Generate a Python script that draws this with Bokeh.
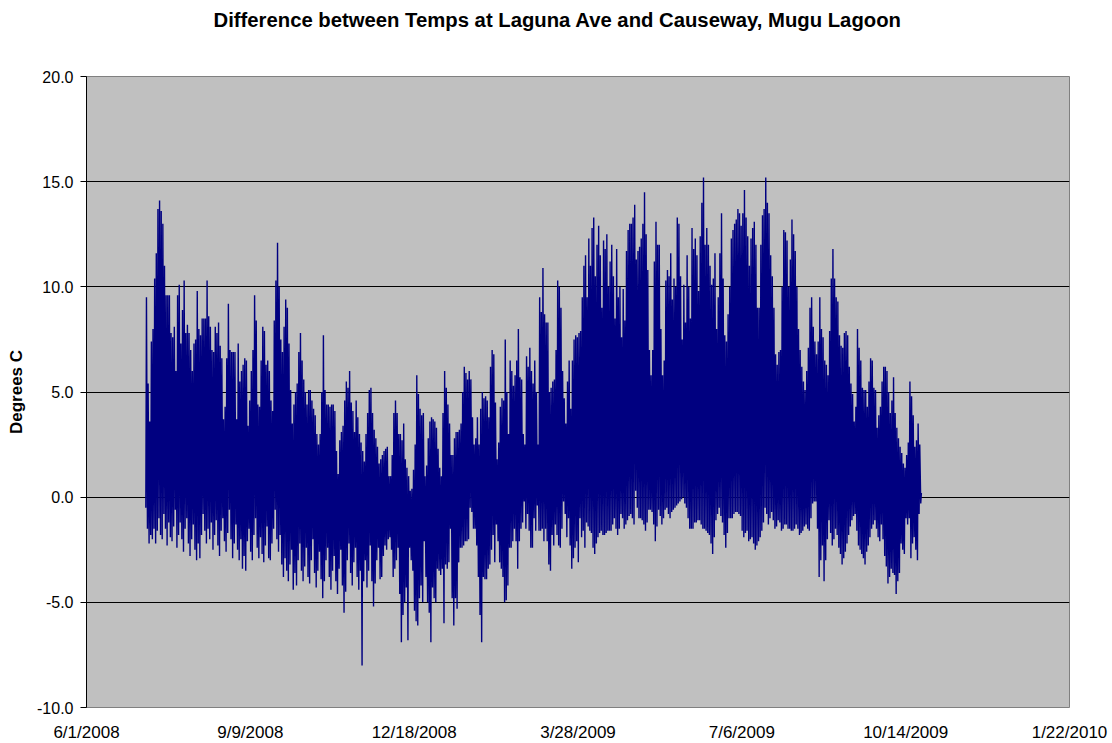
import datetime as dt
from bokeh.plotting import figure
from bokeh.models import FixedTicker, NumeralTickFormatter, Range1d, ColumnDataSource, Title
from bokeh.embed import file_html
from bokeh.resources import INLINE

chart_title = "Difference between Temps at Laguna Ave and Causeway, Mugu Lagoon"
y_title = "Degrees C"
axis_start = "6/1/2008"
series_start = "7/7/2008"
x_tick_labels = ["6/1/2008", "9/9/2008", "12/18/2008", "3/28/2009", "7/6/2009", "10/14/2009", "1/22/2010"]
y_ticks = [-10, -5, 0, 5, 10, 15, 20]
y_grid = [-5, 0, 5, 10, 15]

# daily maximum of the temperature difference (deg C), one value per day from series_start
daily_max = [
    9.5, 5.4, 3.6, 7.4, 8.0, 10.4, 11.6, 13.7, 14.1, 13.6,
    13.0, 11.0, 9.6, 9.6, 9.6, 7.8, 7.6, 8.1, 6.0, 9.6,
    10.1, 7.3, 8.9, 10.3, 7.8, 8.2, 7.8, 7.0, 6.0, 7.3,
    7.5, 9.8, 8.0, 7.7, 8.5, 8.5, 8.5, 10.3, 8.6, 8.1,
    7.0, 6.9, 8.1, 7.8, 8.3, 7.2, 6.6, 3.7, 4.3, 6.6,
    9.2, 7.0, 6.9, 6.9, 6.9, 3.7, 7.3, 5.5, 6.0, 6.3,
    6.6, 6.5, 3.4, 4.6, 6.0, 7.0, 9.6, 8.4, 4.4, 4.3,
    6.5, 8.1, 7.9, 6.3, 6.5, 6.0, 4.6, 4.1, 8.4, 10.3,
    12.1, 10.0, 7.5, 6.9, 8.1, 9.4, 9.0, 7.3, 5.1, 3.5,
    4.4, 5.0, 5.4, 6.9, 7.8, 6.5, 5.6, 5.0, 4.4, 5.1,
    5.1, 4.6, 4.2, 3.9, 3.0, 2.5, 3.0, 5.0, 7.7, 5.1,
    4.4, 4.4, 4.3, 4.4, 4.4, 4.1, 2.2, 1.1, 2.7, 3.1,
    3.4, 4.6, 5.5, 5.2, 6.0, 4.5, 4.1, 3.1, 4.6, 3.8,
    3.0, 2.6, 2.2, 1.7, 3.0, 4.0, 5.1, 5.2, 4.0, 3.2,
    2.8, 2.4, 1.6, 1.8, 2.0, 2.2, 2.3, 2.4, 1.0, 1.0,
    2.0, 4.0, 4.6, 4.0, 3.0, 3.0, 2.7, 3.5, 1.8, 1.4,
    1.0, 0.3, 0.4, 1.3, 2.5, 5.8, 4.9, 4.2, 3.9, 4.0,
    1.0, 1.5, 2.8, 3.6, 3.8, 3.7, 3.6, 3.3, 2.3, 1.4,
    1.0, 4.0, 6.0, 5.2, 4.4, 3.5, 2.0, 2.0, 2.8, 3.1,
    3.1, 3.2, 3.5, 5.0, 6.2, 5.9, 5.6, 6.0, 5.6, 3.8,
    2.5, 2.8, 3.8, 2.5, 4.2, 5.0, 4.7, 4.8, 4.6, 3.8,
    6.2, 7.0, 6.8, 4.5, 1.8, 2.6, 4.3, 4.7, 4.6, 7.5,
    5.0, 3.0, 6.5, 6.0, 5.3, 5.8, 6.5, 8.0, 5.7, 5.6,
    3.0, 2.5, 6.7, 6.2, 7.1, 6.0, 5.4, 6.5, 5.0, 2.5,
    9.5, 8.8, 10.9, 8.7, 8.3, 8.3, 5.0, 5.2, 5.5, 5.6,
    7.0, 10.3, 10.0, 9.0, 6.0, 4.7, 3.5, 5.5, 6.5, 4.2,
    6.5, 7.5, 7.7, 7.6, 7.8, 7.9, 9.5, 11.0, 11.5, 9.5,
    12.3, 11.0, 12.8, 13.3, 10.5, 12.0, 12.9, 11.5, 9.0, 12.2,
    11.8, 12.5, 10.0, 11.2, 12.0, 10.5, 8.5, 11.8, 9.5, 10.0,
    7.6, 9.9, 8.4, 11.7, 12.7, 13.0, 13.0, 13.3, 13.9, 11.3,
    11.7, 11.9, 12.3, 13.0, 14.5, 12.5, 10.8, 7.0, 5.8, 7.0,
    11.2, 13.1, 12.0, 12.0, 8.0, 5.8, 6.5, 10.3, 10.8, 10.5,
    11.6, 9.4, 10.4, 10.0, 13.3, 13.0, 10.5, 7.5, 10.1, 8.3,
    11.5, 10.0, 8.5, 12.8, 11.8, 12.3, 11.5, 9.8, 12.4, 14.0,
    15.2, 12.0, 12.8, 12.0, 11.0, 10.1, 10.4, 11.6, 8.0, 9.5,
    11.6, 13.5, 10.4, 7.7, 7.4, 8.7, 10.0, 12.3, 12.7, 13.0,
    13.2, 13.7, 13.5, 12.9, 13.5, 14.6, 13.3, 12.4, 11.0, 12.3,
    12.8, 13.1, 12.0, 9.0, 9.0, 12.0, 13.4, 13.7, 15.2, 14.0,
    13.5, 11.5, 10.5, 9.0, 6.8, 6.3, 6.9, 7.0, 10.0, 12.7,
    12.6, 12.2, 10.0, 11.3, 13.2, 12.5, 11.7, 10.0, 8.0, 7.0,
    6.2, 5.5, 5.1, 6.0, 7.1, 9.0, 9.5, 8.1, 7.4, 6.8,
    7.4, 9.5, 8.0, 7.6, 6.5, 6.3, 5.8, 7.9, 10.4, 11.8,
    10.4, 9.5, 9.3, 7.7, 7.2, 7.1, 7.8, 7.9, 7.7, 6.2,
    5.4, 4.9, 3.6, 4.3, 8.0, 7.1, 6.5, 5.2, 5.1, 5.1,
    4.3, 5.5, 6.6, 6.5, 5.2, 5.1, 3.3, 3.9, 4.3, 5.5,
    6.2, 6.2, 6.0, 5.0, 4.0, 4.6, 5.7, 4.0, 3.3, 2.8,
    2.4, 2.1, 1.6, 1.4, 2.0, 2.6, 5.5, 4.8, 3.9, 2.4,
    2.7, 3.5, 2.5, 0.2,
]

# daily minimum of the temperature difference (deg C)
daily_min = [
    -0.5, -1.5, -2.2, -1.8, -2.0, -1.5, -2.2, -1.6, -1.0, -1.8,
    -2.0, -0.8, -1.5, -2.3, -1.2, -1.9, -2.1, -1.4, -0.6, -2.4,
    -1.8, -1.2, -2.0, -2.6, -1.5, -1.0, -2.2, -2.8, -2.0, -1.3,
    -2.5, -3.0, -2.2, -2.9, -1.8, -0.8, -1.6, -2.2, -1.5, -2.0,
    -1.2, -2.5, -1.8, -1.1, -2.3, -2.8, -1.6, -1.0, -2.1, -2.6,
    -1.7, -0.6, -2.0, -2.9, -2.2, -1.3, -2.5, -3.0, -2.0, -3.4,
    -2.8, -3.5, -2.1, -1.5, -2.6, -3.0, -1.8, -1.0, -2.4, -2.9,
    -1.9, -2.7, -3.1, -2.3, -1.4, -2.9, -3.0, -2.2, -1.5, -0.6,
    -2.0, -2.6, -1.8, -3.2, -3.8, -2.9, -3.5, -4.0, -3.2, -2.5,
    -4.4, -3.6, -4.2, -3.0, -2.2, -3.5, -4.0, -3.3, -2.4, -3.8,
    -4.1, -3.0, -2.0, -3.6, -4.3, -3.5, -2.6, -3.9, -4.8, -4.0,
    -3.0, -2.4, -3.8, -4.4, -3.5, -2.8, -4.0, -4.6, -3.4, -2.5,
    -4.2, -5.5, -4.5, -3.0, -2.2, -3.6, -4.2, -3.1, -2.4, -3.8,
    -4.4, -3.5, -8.0, -4.0, -3.0, -4.3, -3.5, -2.3, -4.0, -5.2,
    -4.1, -3.0, -2.4, -3.9, -3.8, -2.8, -2.3, -2.5, -2.0, -1.9,
    -2.5, -3.8, -3.4, -3.0, -2.4, -4.6, -6.9, -5.6, -5.0, -4.3,
    -6.8, -2.4, -3.0, -3.5, -5.4, -5.9, -6.1, -4.8, -4.2, -5.0,
    -2.1, -3.8, -5.0, -5.5, -6.9, -4.3, -4.8, -5.0, -3.4, -3.5,
    -3.7, -3.4, -6.0, -3.2, -3.4, -3.1, -1.5, -4.8, -6.1, -4.8,
    -5.3, -3.1, -2.4, -2.4, -2.3, -2.1, -2.1, -2.0, -0.5, -0.7,
    -1.5, -1.5, -2.3, -3.8, -5.6, -6.9, -3.8, -3.9, -3.9, -3.4,
    -3.2, -2.5, -1.8, -3.1, -1.3, -2.1, -3.1, -3.4, -3.8, -5.0,
    -4.9, -4.2, -2.4, -2.4, -2.1, -1.5, -2.1, -3.4, -2.1, -1.5,
    -1.2, -0.2, -1.5, -0.8, -1.6, -2.4, -2.4, -1.0, -1.6, -0.4,
    -1.6, -1.6, -1.5, -2.1, -1.5, -2.1, -3.2, -3.5, -1.8, -2.3,
    -1.3, -1.8, -2.3, -2.4, -1.5, -0.2, -0.8, -1.9, -1.0, -2.3,
    -3.4, -2.9, -2.4, -2.1, -3.1, -1.0, -1.9, -1.6, -2.4, -1.2,
    -1.4, -1.6, -1.7, -2.4, -2.7, -2.2, -1.9, -1.7, -1.6, -1.8,
    -1.8, -1.7, -1.6, -1.6, -1.6, -1.3, -1.0, -1.5, -1.8, -1.5,
    -0.8, -1.0, -1.5, -1.3, -1.1, -0.9, -0.8, -1.0, -1.3, 0.3,
    -0.5, -1.0, -1.0, -1.1, -1.3, -1.6, -1.2, -0.6, -0.6, -0.7,
    -1.3, -2.1, -1.4, -0.6, -0.9, -1.3, -1.0, -0.6, -0.5, -0.8,
    -1.0, -0.7, -0.6, -0.5, -0.4, -0.3, -0.2, -0.1, 0.0, -0.3,
    -0.5, -1.0, -1.5, -1.5, -1.5, -1.2, -1.2, -1.1, -1.1, -1.3,
    -1.5, -1.5, -1.6, -1.7, -1.8, -2.2, -2.7, -1.9, -1.1, -0.8,
    -0.5, -0.9, -1.2, -1.8, -2.4, -1.7, -1.0, -1.0, -1.0, -0.8,
    -0.7, -0.7, -0.8, -0.9, -1.6, -1.9, -1.7, -1.6, -2.1, -2.0,
    -1.9, -2.2, -2.5, -2.3, -2.1, -1.9, -1.6, -1.2, -0.5, -0.8,
    -1.3, -1.0, -0.7, -1.1, -1.5, -1.4, -1.1, -1.2, -1.6, -1.5,
    -1.3, -1.3, -1.5, -1.5, -1.6, -1.6, -1.5, -1.3, -1.5, -1.8,
    -1.7, -1.6, -1.4, -1.3, -1.5, -1.6, -1.0, -0.3, -0.2, -0.2,
    -1.5, -3.8, -3.0, -2.3, -4.0, -3.0, -2.0, -1.1, -1.7, -2.3,
    -2.0, -1.5, -1.8, -2.4, -2.7, -3.2, -2.9, -2.6, -2.2, -1.8,
    -1.4, -1.1, -0.9, -0.8, -1.6, -2.3, -2.5, -2.7, -2.9, -3.2,
    -2.6, -2.3, -1.9, -1.5, -1.3, -1.1, -1.5, -1.9, -2.1, -1.3,
    -2.0, -2.8, -3.3, -4.1, -3.8, -3.4, -3.6, -3.7, -4.6, -4.0,
    -3.6, -2.2, -2.5, -2.7, -1.0, -1.3, -1.0, -2.9, -2.2, -1.9,
    -2.5, -3.0, -0.8, -0.3,
]


def to_date(s):
    m, d, y = (int(v) for v in s.split("/"))
    return dt.date(y, m, d)


d0 = to_date(axis_start)
offset = (to_date(series_start) - d0).days
x_ticks = [(to_date(s) - d0).days for s in x_tick_labels]

# each day: overnight low, then afternoon high
xs, ys = [], []
for i, (lo, hi) in enumerate(zip(daily_min, daily_max)):
    xs.append(offset + i + 0.2)
    ys.append(lo)
    xs.append(offset + i + 0.6)
    ys.append(hi)

src = ColumnDataSource(data=dict(x=xs, y=ys))

p = figure(
    frame_width=983, frame_height=631,
    x_range=Range1d(x_ticks[0], x_ticks[-1]),
    y_range=Range1d(y_ticks[0], y_ticks[-1]),
    title_location=None,
    output_backend="svg", toolbar_location=None,
    min_border_left=86, min_border_right=43, min_border_top=76, min_border_bottom=36,
    background_fill_color="#C0C0C0", border_fill_color="white",
    outline_line_color="#808080", outline_line_width=1,
)

# blank spacer between frame and title, then the title itself above it
p.add_layout(Title(text=" ", text_font_size="20px", standoff=17), "above")
p.add_layout(Title(
    text=chart_title, align="left", offset=127,
    text_font="Liberation Sans", text_font_size="20.3px", text_font_style="bold",
    text_color="black", standoff=10,
), "above")

# x axis (dates)
p.xaxis.ticker = FixedTicker(ticks=x_ticks)
p.xaxis.major_label_overrides = {t: s for t, s in zip(x_ticks, x_tick_labels)}
p.xaxis.axis_line_color = None
p.xaxis.major_tick_line_color = None
p.xaxis.major_tick_out = 0
p.xaxis.major_tick_in = 0
p.xaxis.minor_tick_line_color = None
p.xaxis.minor_tick_out = 0
p.xaxis.major_label_standoff = 15
p.xaxis.major_label_text_font = "Liberation Sans"
p.xaxis.major_label_text_font_size = "17px"
p.xaxis.major_label_text_color = "black"

# y axis
p.yaxis.ticker = FixedTicker(ticks=y_ticks)
p.yaxis.formatter = NumeralTickFormatter(format="0.0")
p.yaxis.axis_line_color = "black"
p.yaxis.major_tick_line_color = "black"
p.yaxis.major_tick_out = 6
p.yaxis.major_tick_in = 0
p.yaxis.minor_tick_line_color = None
p.yaxis.major_label_standoff = 7
p.yaxis.major_label_text_font = "Liberation Sans"
p.yaxis.major_label_text_font_size = "16px"
p.yaxis.major_label_text_color = "black"
p.yaxis.axis_label = y_title
p.yaxis.axis_label_text_font = "Liberation Sans"
p.yaxis.axis_label_text_font_size = "17px"
p.yaxis.axis_label_text_font_style = "bold"
p.yaxis.axis_label_text_color = "black"
p.yaxis.axis_label_standoff = 8

p.xgrid.visible = False
p.ygrid.ticker = FixedTicker(ticks=y_grid)
p.ygrid.grid_line_color = "black"
p.ygrid.grid_line_width = 1
p.ygrid.grid_line_alpha = 1.0

p.line("x", "y", source=src, line_color="#000080", line_width=1.4)

open("out.html", "w").write(file_html(p, INLINE))
